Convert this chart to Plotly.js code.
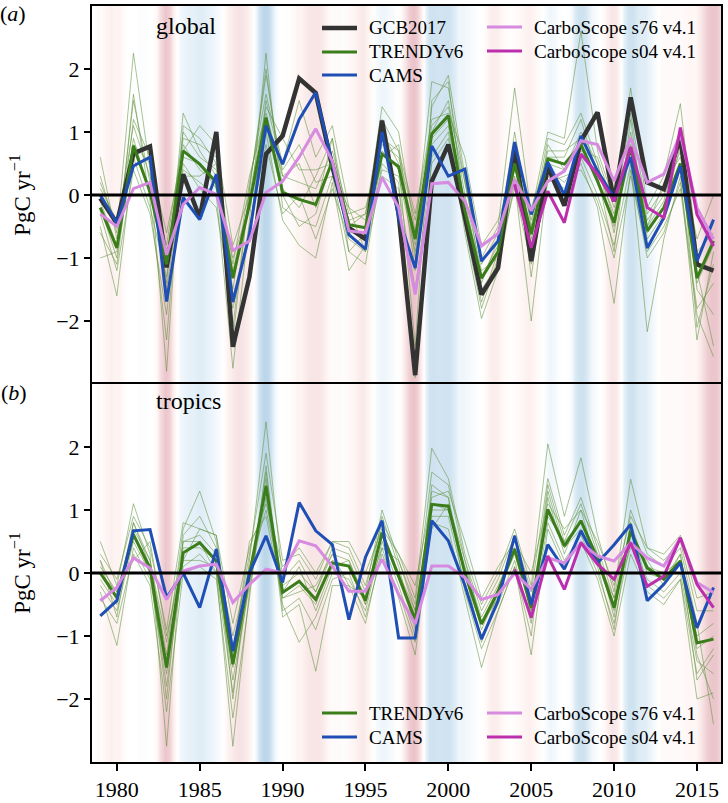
<!DOCTYPE html>
<html>
<head>
<meta charset="utf-8">
<script src="https://cdn.plot.ly/plotly-3.0.1.min.js"></script>
<style>html,body{margin:0;padding:0;background:#fff;}#chart{width:728px;height:803px;}</style>
</head>
<body>
<div id="chart"></div>
<script>
// ---------- data ----------
const years = [1979,1980,1981,1982,1983,1984,1985,1986,1987,1988,1989,1990,1991,1992,1993,1994,1995,1996,1997,1998,
               1999,2000,2001,2002,2003,2004,2005,2006,2007,2008,2009,2010,2011,2012,2013,2014,2015,2016];
const yearsS04 = [2004,2005,2006,2007,2008,2009,2010,2011,2012,2013,2014,2015,2016];
const xTickVals = [1980,1985,1990,1995,2000,2005,2010,2015];
const yTickVals = [-2,-1,0,1,2];

// global (panel a)
const gcbGlobal = [-0.05,-0.45,0.66,0.77,-1.15,0.33,-0.36,1.0,-2.41,-1.3,0.65,0.94,1.85,1.62,0.45,-0.52,-0.7,1.18,-0.3,-2.86,
                   0.22,0.8,-0.35,-1.58,-1.16,0.76,-1.05,0.45,-0.17,0.86,1.31,-0.1,1.55,0.2,0.09,0.91,-1.1,-1.2];
const trendyGlobal = [-0.2,-0.84,0.78,0.05,-1.1,0.7,0.49,0.2,-1.32,-0.15,1.23,0.04,-0.07,-0.15,0.54,-0.47,-0.52,0.65,0.45,-0.7,
                      0.97,1.26,-0.25,-1.32,-0.9,0.5,-0.62,0.57,0.49,0.8,0.22,-0.44,0.76,-0.57,-0.2,0.5,-1.32,-0.73];
const camsGlobal = [0.0,-0.45,0.46,0.6,-1.69,-0.04,-0.39,0.33,-1.7,-0.63,1.1,0.49,1.2,1.63,0.5,-0.63,-0.86,1.0,-0.36,-1.16,
                    0.78,0.3,0.41,-1.05,-0.73,0.84,-0.31,0.52,0.0,0.94,0.38,-0.04,0.6,-0.84,-0.36,0.46,-1.05,-0.39];
const s76Global = [-0.3,-0.5,0.1,0.2,-0.95,-0.15,0.12,0.01,-0.88,-0.73,0.04,0.22,0.6,1.05,0.54,-0.57,-0.6,0.28,-0.2,-1.58,
                   0.18,0.2,-0.1,-0.81,-0.61,0.25,-0.25,0.22,0.38,0.86,0.8,0.22,0.91,0.2,0.33,0.97,-0.2,-0.7];
const s04Global = [0.17,-0.84,0.06,-0.44,0.65,0.33,-0.1,0.76,-0.2,-0.36,1.07,-0.31,-0.81];
// individual TRENDYv6 models, global
const trendyModelsGlobal = [
 [0.3,-0.6,2.25,0.4,-2.8,1.1,0.9,0.5,-2.1,0.1,1.9,0.3,0.5,-0.2,0.9,-0.5,-0.3,1.2,0.7,-1.2,1.4,1.9,0.3,-1.4,-0.7,1.0,-0.5,0.9,0.8,1.3,0.5,-0.4,1.3,-0.3,0.1,1.0,-1.2,-2.4],
 [-0.5,-1.6,0.6,-0.2,-1.3,0.4,0.2,0.0,-2.75,-0.4,2.25,-0.2,-0.4,-0.5,0.3,-0.9,-1.1,0.5,0.2,-2.9,0.6,1.0,-0.6,-1.96,-1.2,0.2,-2.0,0.3,0.1,0.5,-0.2,-1.72,0.4,-1.0,-0.6,0.2,-1.8,-1.4],
 [-0.1,-0.8,1.5,0.2,-1.4,1.3,0.7,0.3,-1.5,0.2,1.6,0.5,1.5,0.6,1.1,-0.2,-0.4,1.4,1.0,-0.6,1.8,1.7,0.2,-1.0,-0.5,1.7,-0.3,1.0,0.9,2.6,0.7,-0.1,1.7,-0.2,0.3,1.45,-0.9,-0.6],
 [-0.6,-1.1,0.9,0.0,-1.0,0.6,0.5,0.1,-1.0,-0.2,1.0,-0.4,-0.8,-1.0,0.2,-1.2,-0.8,0.4,0.3,-0.9,0.8,1.1,-0.4,-1.5,-1.1,0.3,-1.0,0.4,0.2,0.6,0.0,-0.8,0.5,-2.17,-0.7,0.3,-2.3,-0.9],
 [0.2,-0.5,1.1,0.3,-0.8,0.9,0.8,0.6,-1.1,0.3,1.3,0.3,0.2,0.1,0.7,-0.3,-0.2,0.8,0.6,-0.4,1.1,1.4,0.2,-1.1,-0.6,0.6,-0.4,0.7,0.7,0.9,0.4,-0.3,0.9,-0.4,0.0,0.7,-1.0,-0.4],
 [-0.3,-1.2,0.4,-0.3,-1.9,0.5,0.1,-0.2,-1.8,-0.5,0.8,-0.3,0.0,-0.7,0.1,-0.7,-0.9,0.3,0.1,-1.5,0.5,0.9,-0.5,-1.8,-1.0,0.1,-1.1,0.2,0.3,0.4,-0.1,-1.0,0.3,-0.9,-0.5,0.1,-1.9,-2.57],
 [0.6,-0.7,0.8,0.5,-0.6,0.7,1.1,0.8,-0.8,0.0,1.4,0.9,0.4,0.4,0.5,-0.4,-0.3,0.9,0.7,-0.3,1.2,1.3,0.6,-0.8,-0.4,0.4,-0.2,0.6,0.5,0.7,0.6,-0.2,0.7,-0.5,0.2,0.6,-0.7,0.0],
 [-1.0,-0.9,1.6,-0.1,-2.3,0.8,0.4,0.2,-2.3,0.1,2.0,0.1,-0.2,0.3,0.9,-0.9,-0.6,1.0,0.5,-2.4,1.5,1.8,-0.3,-1.7,-0.9,0.8,-1.3,0.6,0.6,1.2,0.3,-0.9,1.2,-0.7,-0.3,0.8,-2.1,-1.1],
 [0.1,-0.4,0.7,0.1,-1.1,1.0,0.6,0.4,-1.2,-0.1,1.1,0.0,-0.5,-0.3,0.6,-0.6,-0.6,0.7,0.4,-0.8,0.9,1.2,-0.1,-1.3,-0.8,0.5,-0.7,0.5,0.4,0.8,0.2,-0.5,0.8,-0.6,-0.2,0.5,-1.4,-0.8],
 [-0.2,-1.0,1.2,0.6,-1.5,0.3,0.3,0.5,-1.6,-0.6,1.5,0.4,0.8,0.2,0.3,-0.2,-0.9,0.6,0.8,-1.0,1.0,1.5,0.0,-1.2,-1.0,0.6,-0.8,0.8,0.4,1.0,0.5,-0.6,1.0,-0.5,-0.1,0.9,-1.5,-1.9]
];

// tropics (panel b)
const trendyTropics = [0.0,-0.39,0.61,0.08,-1.5,0.32,0.48,0.19,-1.45,-0.02,1.38,-0.31,-0.13,-0.42,0.16,0.11,-0.44,0.64,-0.05,-0.74,
                       1.09,1.06,0.0,-0.81,-0.29,0.38,-0.55,1.01,0.43,0.83,0.22,-0.55,0.67,0.08,-0.1,0.19,-1.11,-1.05];
const camsTropics = [-0.68,-0.44,0.67,0.69,-0.39,0.0,-0.55,0.38,-1.24,0.0,0.59,-0.15,1.12,0.67,0.45,-0.74,0.25,0.83,-1.03,-1.03,
                     0.83,0.51,-0.2,-1.05,-0.44,0.59,-0.5,0.45,0.06,0.67,0.16,0.45,0.77,-0.44,-0.18,0.16,-0.87,-0.23];
const s76Tropics = [-0.44,-0.23,0.24,0.08,-0.42,0.03,0.11,0.14,-0.47,-0.18,0.06,0.0,0.51,0.43,0.11,-0.29,-0.29,0.22,-0.34,-0.81,
                    0.11,0.11,-0.07,-0.42,-0.34,0.0,-0.26,0.24,0.16,0.48,0.27,0.19,0.48,0.24,0.11,0.56,-0.15,-0.31];
const s04Tropics = [0.06,-0.71,0.27,-0.26,0.48,0.14,-0.1,0.48,-0.21,-0.05,0.56,-0.18,-0.55];
const trendyModelsTropics = [
 [0.5,-0.2,1.1,0.3,-2.75,0.6,0.9,0.4,-2.0,0.2,2.4,-0.1,0.2,-0.3,0.4,0.3,-0.3,1.0,0.2,-0.5,1.6,1.4,0.2,-0.6,-0.1,0.6,-0.3,1.5,0.6,1.2,0.4,-0.4,1.0,0.3,0.1,0.4,-0.8,-2.4],
 [-0.3,-1.15,0.4,-0.1,-1.6,0.1,0.3,0.0,-2.75,-0.3,1.5,-0.7,-0.5,-1.56,-0.2,-0.2,-0.8,0.4,-0.4,-1.3,0.8,0.7,-0.4,-1.5,-0.6,0.1,-1.3,0.7,0.1,0.5,-0.1,-1.0,0.3,-0.3,-0.5,-0.1,-1.6,-1.2],
 [0.2,-0.4,0.8,0.2,-1.3,0.7,1.3,0.5,-1.2,0.3,1.9,0.2,0.3,-0.1,0.5,0.4,-0.2,0.8,0.3,-0.4,1.98,1.5,0.3,-0.5,0.0,0.7,-0.2,2.05,0.9,1.83,0.6,-0.3,1.49,0.4,0.2,0.5,-0.6,-0.6],
 [-0.2,-0.6,0.5,0.0,-1.8,0.2,0.2,0.1,-1.7,-0.2,1.2,-0.5,-1.1,-0.7,0.0,-0.1,-0.6,0.5,-0.2,-1.0,0.9,0.9,-0.2,-1.0,-0.5,0.2,-0.8,0.8,0.2,0.6,0.0,-0.8,0.5,-0.1,-0.3,0.0,-1.4,-1.6],
 [0.1,-0.3,0.7,0.2,-1.1,0.5,0.6,0.3,-1.0,0.1,1.0,-0.2,0.0,-0.3,0.3,0.2,-0.4,0.6,0.0,-0.6,1.0,1.0,0.1,-0.7,-0.2,0.4,-0.5,0.9,0.5,0.8,0.3,-0.5,0.6,0.1,0.0,0.2,-1.0,-0.8],
 [-0.4,-0.8,0.3,-0.2,-2.2,0.0,0.1,-0.1,-2.3,-0.4,1.7,-0.6,-0.4,-0.9,-0.1,0.0,-0.7,0.3,-0.3,-1.1,1.3,1.2,-0.3,-1.2,-0.6,0.1,-1.0,1.2,0.3,1.0,0.1,-0.9,0.8,-0.2,-0.4,-0.1,-2.0,-1.9],
 [0.3,-0.1,0.9,0.4,-0.9,0.8,0.7,0.6,-0.8,0.4,1.1,0.1,0.4,0.0,0.5,0.5,0.0,0.7,0.3,-0.2,1.2,1.3,0.5,-0.4,0.1,0.5,0.0,1.1,0.7,1.0,0.5,-0.2,0.9,0.4,0.3,0.6,-0.4,-0.3],
 [-0.1,-0.5,0.6,0.0,-1.5,0.4,0.4,0.2,-1.5,0.0,1.4,-0.4,-0.2,-0.5,0.2,0.1,-0.5,0.6,-0.1,-0.8,1.1,1.0,0.0,-0.9,-0.3,0.4,-0.6,1.0,0.4,0.8,0.2,-0.6,0.7,0.1,-0.1,0.2,-1.2,-1.0],
 [0.0,-0.3,0.2,0.5,-1.0,0.2,0.7,0.6,-1.3,0.5,0.9,-0.4,-0.3,-0.2,0.3,-0.2,-0.4,0.4,0.2,-0.6,0.7,1.1,0.2,-0.8,-0.4,0.6,-0.7,1.3,0.4,0.7,0.2,-0.4,0.4,0.2,-0.2,0.3,-1.3,-2.0],
 [0.2,-0.7,0.8,0.1,-2.0,0.5,0.5,0.0,-1.9,-0.1,1.6,-0.3,0.1,-0.6,0.1,0.2,-0.5,0.9,0.1,-0.9,1.4,1.2,0.0,-1.1,-0.3,0.3,-0.6,1.4,0.5,1.1,0.3,-0.7,0.8,0.0,-0.1,0.3,-1.7,-1.3]
];

// ENSO index (quarterly, starting 1978 Q1), read from the background shading
const ensoStartYear = 1978;
const ensoIndex = [
 0,0,0,0.1,  0.1,0.2,0.25,0.2,  0.2,0.1,0.0,0.0,  0,-0.05,-0.05,0,  0,0.1,0.5,0.8,
 0.7,0.3,0.0,-0.2,  -0.25,-0.3,-0.3,-0.35,  -0.35,-0.3,-0.25,-0.2,  -0.1,0,0.2,0.3,  0.4,0.45,0.4,0.3,
 0.1,-0.2,-0.6,-0.9,  -0.8,-0.4,-0.1,0,  0.05,0.05,0.1,0.2,  0.2,0.3,0.4,0.4,  0.4,0.35,0.2,0.1,
 0.1,0.1,0.05,0.1,  0.15,0.2,0.3,0.35,  0.2,0.05,-0.1,-0.2,  -0.2,-0.15,-0.1,0.0,  0.1,0.4,0.7,0.85,
 0.7,0.3,-0.3,-0.55,  -0.55,-0.5,-0.5,-0.55,  -0.5,-0.35,-0.2,-0.2,  -0.15,-0.1,-0.05,0,  0.05,0.2,0.3,0.3,
 0.2,0.1,0.05,0.05,  0.1,0.15,0.2,0.25,  0.2,0.1,0.0,-0.1,  -0.2,-0.15,-0.05,0.0,  0.0,-0.1,-0.4,-0.55,
 -0.55,-0.4,-0.2,-0.1,  0,0.1,0.3,0.4,  0.35,0.1,-0.3,-0.55,  -0.55,-0.4,-0.35,-0.35,  -0.25,-0.15,0.0,0.1,
 0.1,0.1,0.1,0.1,  0.1,0.15,0.15,0.15,  0.3,0.5,0.7,0.8,  0.8,0.6,0.0,0.0
];

// ---------- styles ----------
const FONT = 'Liberation Serif';
const C_GCB = '#333333', C_TR = '#3a7d1a', C_CAMS = '#1f4fb4', C_S76 = '#d68be0', C_S04 = '#bb2fad';
const C_THIN = 'rgba(95,145,60,0.55)';

const ensoX = ensoIndex.map((_, i) => ensoStartYear + 0.125 + 0.25 * i);

function bgHeat(xa, ya) {
  return {type: 'heatmap', x: ensoX, y: [-3.5, 3.5], z: [ensoIndex, ensoIndex],
    zmin: -1, zmax: 1, zsmooth: 'best', showscale: false, hoverinfo: 'skip',
    colorscale: [[0, 'rgb(180,210,231)'], [0.25, 'rgb(210,228,241)'], [0.4, 'rgb(239,246,251)'], [0.5, 'rgb(255,255,255)'],
                 [0.6, 'rgb(253,244,242)'], [0.75, 'rgb(245,222,224)'], [1, 'rgb(229,182,191)']],
    xaxis: xa, yaxis: ya};
}
function line(x, y, color, width, xa, ya) {
  return {type: 'scatter', mode: 'lines', x: x, y: y, line: {color: color, width: width},
    xaxis: xa, yaxis: ya, showlegend: false, hoverinfo: 'skip'};
}

const traces = [bgHeat('x', 'y'), bgHeat('x2', 'y2')];
trendyModelsGlobal.forEach(m => traces.push(line(years, m, C_THIN, 1, 'x', 'y')));
trendyModelsTropics.forEach(m => traces.push(line(years, m, C_THIN, 1, 'x2', 'y2')));
traces.push(line(years, gcbGlobal, C_GCB, 4.5, 'x', 'y'));
traces.push(line(years, trendyGlobal, C_TR, 3, 'x', 'y'));
traces.push(line(years, camsGlobal, C_CAMS, 3, 'x', 'y'));
traces.push(line(years, s76Global, C_S76, 3, 'x', 'y'));
traces.push(line(yearsS04, s04Global, C_S04, 3, 'x', 'y'));
traces.push(line(years, trendyTropics, C_TR, 3, 'x2', 'y2'));
traces.push(line(years, camsTropics, C_CAMS, 3, 'x2', 'y2'));
traces.push(line(years, s76Tropics, C_S76, 3, 'x2', 'y2'));
traces.push(line(yearsS04, s04Tropics, C_S04, 3, 'x2', 'y2'));

// ---------- layout ----------
const L = 92, R = 7, T = 6, B = 41, W = 728, H = 803;
const pw = W - L - R, ph = H - T - B;
const px = v => (v - L) / pw;          // pixel -> paper x
const py = v => (H - B - v) / ph;      // pixel -> paper y

const tickFont = {family: FONT, size: 22, color: '#000'};
const yBase = {range: [-3, 3], tickvals: yTickVals, ticks: 'outside', ticklen: 6, tickwidth: 2, tickcolor: '#000',
  showline: true, mirror: true, linecolor: '#000', linewidth: 2, showgrid: false, zeroline: false,
  tickfont: tickFont, title: {text: 'PgC yr<sup>−1</sup>', font: {family: FONT, size: 23, color: '#000'}, standoff: 19}};
const xBase = {range: [1978.5, 2016.45], showline: true, mirror: true, linecolor: '#000', linewidth: 2,
  showgrid: false, zeroline: false, tickfont: tickFont};

const legendFont = {family: FONT, size: 19, color: '#000'};
const shapes = [
  {type: 'line', xref: 'x domain', yref: 'y', x0: 0, x1: 1, y0: 0, y1: 0, line: {color: '#000', width: 3}, layer: 'above'},
  {type: 'line', xref: 'x2 domain', yref: 'y2', x0: 0, x1: 1, y0: 0, y1: 0, line: {color: '#000', width: 3}, layer: 'above'}
];
function label(text, xPix, yPix, size) {
  return {text: text, x: px(xPix), y: py(yPix), xref: 'paper', yref: 'paper', xanchor: 'center', yanchor: 'middle',
    showarrow: false, font: {family: FONT, size: size, color: '#000'}};
}
const annotations = [
  label('(<i>a</i>)', 13, 13, 22),
  label('(<i>b</i>)', 14, 393, 22),
  label('global', 186, 26, 24),
  label('tropics', 188, 401, 24)
];
function legendEntry(text, color, width, x0, yPix) {
  shapes.push({type: 'line', xref: 'paper', yref: 'paper', x0: px(x0), x1: px(x0 + 35), y0: py(yPix), y1: py(yPix),
    line: {color: color, width: width}, layer: 'above'});
  annotations.push({text: text, x: px(x0 + 45), y: py(yPix), xref: 'paper', yref: 'paper', xanchor: 'left',
    yanchor: 'middle', showarrow: false, font: legendFont});
}
legendEntry('GCB2017', C_GCB, 4.5, 322, 28);
legendEntry('TRENDYv6', C_TR, 3, 322, 52);
legendEntry('CAMS', C_CAMS, 3, 322, 75);
legendEntry('CarboScope s76 v4.1', C_S76, 3, 487, 27);
legendEntry('CarboScope s04 v4.1', C_S04, 3, 487, 51);
legendEntry('TRENDYv6', C_TR, 3, 322, 713);
legendEntry('CAMS', C_CAMS, 3, 322, 737);
legendEntry('CarboScope s76 v4.1', C_S76, 3, 487, 713);
legendEntry('CarboScope s04 v4.1', C_S04, 3, 487, 737);

const layout = {
  width: W, height: H, margin: {l: L, r: R, t: T, b: B, pad: 0},
  paper_bgcolor: '#fff', plot_bgcolor: '#fff', showlegend: false,
  font: {family: FONT, color: '#000'},
  xaxis: Object.assign({}, xBase, {anchor: 'y', domain: [0, 1], showticklabels: false, ticks: ''}),
  yaxis: Object.assign({}, yBase, {anchor: 'x', domain: [0.5, 1]}),
  xaxis2: Object.assign({}, xBase, {anchor: 'y2', domain: [0, 1], tickvals: xTickVals, ticks: 'outside',
    ticklen: 7, tickwidth: 2, tickcolor: '#000'}),
  yaxis2: Object.assign({}, yBase, {anchor: 'x2', domain: [0, 0.5]}),
  shapes: shapes, annotations: annotations
};

Plotly.newPlot('chart', traces, layout, {staticPlot: true, displayModeBar: false});
</script>
</body>
</html>
